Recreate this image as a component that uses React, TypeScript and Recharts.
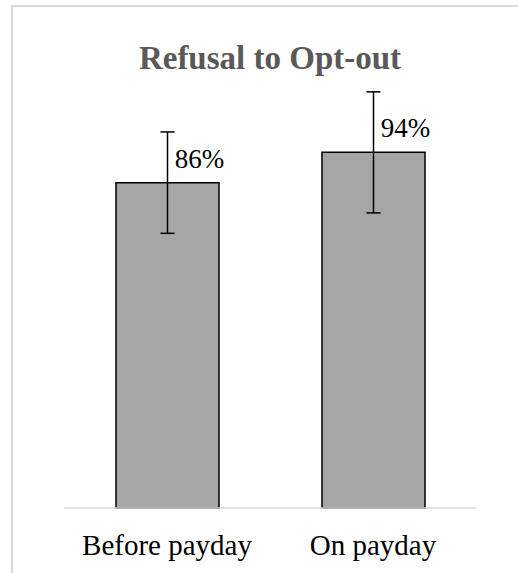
import { BarChart, Bar, XAxis, YAxis, ErrorBar, LabelList } from 'recharts';

const categories = ['Before payday', 'On payday'];
const refusal = [0.86, 0.94];
const errors = [0.134, 0.16];
const labels = ['86%', '94%'];

const data = categories.map((name, i) => ({
  name,
  value: refusal[i],
  err: errors[i],
  label: labels[i],
}));

const FONT = '"Liberation Serif", "Times New Roman", serif';

function CategoryTick({ x, y, payload }: any) {
  return (
    <text x={x} y={y + 39} textAnchor="middle" fontFamily={FONT} fontSize={29} fill="#000">
      {payload.value}
    </text>
  );
}

function ValueLabel({ x, y, width, value }: any) {
  return (
    <text x={x + width / 2 + 32} y={y - 15} textAnchor="middle" fontFamily={FONT} fontSize={27} fill="#000">
      {value}
    </text>
  );
}

export default function App() {
  return (
    <div style={{ position: 'absolute', left: 0, top: 0, width: 518, height: 573, background: '#fff' }}>
      <div
        style={{
          position: 'absolute', left: 11, top: 5, right: 0, bottom: 0,
          borderTop: '2px solid #d9d9d9', borderLeft: '2px solid #d9d9d9',
        }}
      />
      <div
        style={{
          position: 'absolute', left: 64, top: 40, width: 412, textAlign: 'center',
          fontFamily: FONT, fontSize: 33, fontWeight: 'bold', color: '#595959',
        }}
      >
        Refusal to Opt-out
      </div>
      <div style={{ position: 'absolute', left: 0, top: 0 }}>
        <BarChart width={518} height={573} data={data} margin={{ top: 54, right: 42, bottom: 35, left: 64 }}>
          <XAxis
            dataKey="name"
            height={30}
            axisLine={{ stroke: '#d9d9d9', strokeWidth: 1.5 }}
            tickLine={false}
            tick={<CategoryTick />}
            interval={0}
          />
          <YAxis hide domain={[0, 1.2]} />
          <Bar dataKey="value" fill="#a6a6a6" stroke="#000" strokeWidth={1.5} barSize={103} isAnimationActive={false}>
            <ErrorBar dataKey="err" width={7} stroke="#000" strokeWidth={1.5} />
            <LabelList dataKey="label" content={<ValueLabel />} />
          </Bar>
        </BarChart>
      </div>
    </div>
  );
}
